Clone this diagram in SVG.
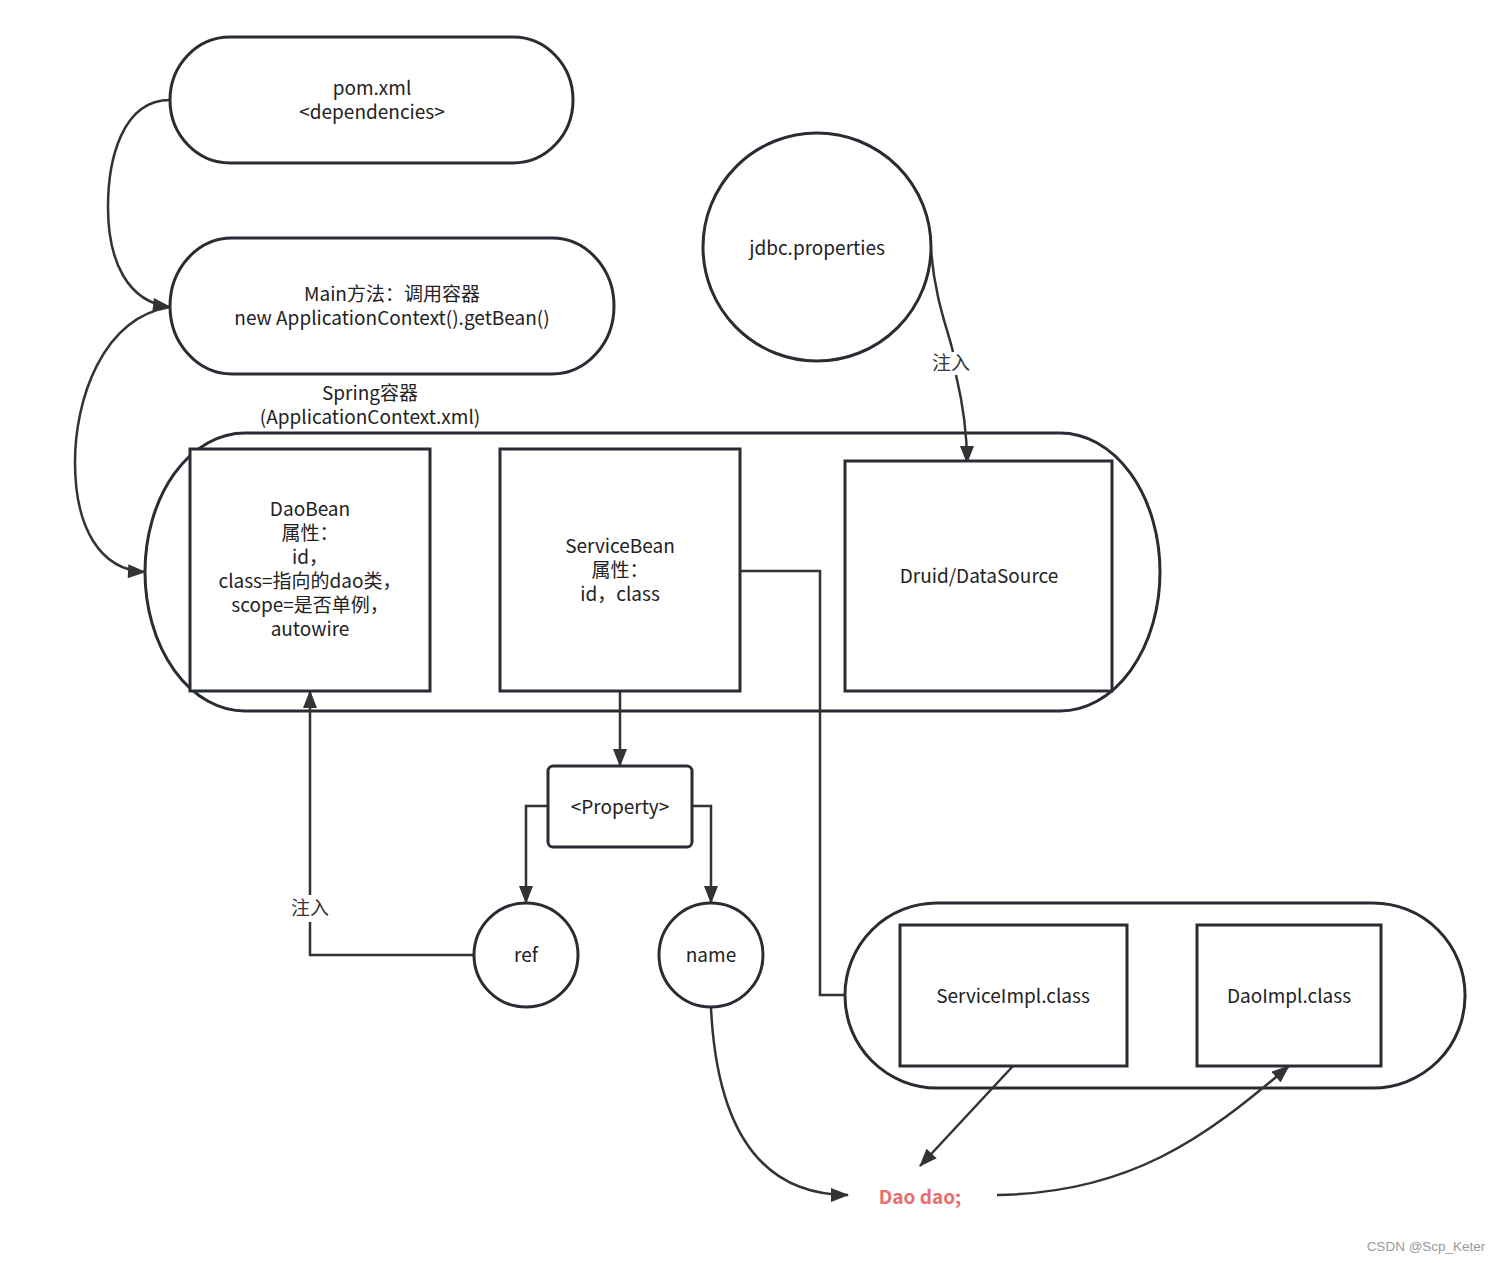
<svg xmlns="http://www.w3.org/2000/svg" width="1502" height="1263" viewBox="0 0 1502 1263">
<style>
.node{fill:#fff;stroke:#282c33;stroke-width:3}
.t{font-family:"Noto Sans CJK SC","Noto Sans",sans-serif;font-size:19px;fill:#222;text-anchor:middle}
.c{fill:none;stroke:#333;stroke-width:2.5}
.lbl{font-family:"Noto Sans CJK SC","Noto Sans",sans-serif;font-size:19px;fill:#333;text-anchor:middle}
</style>
<defs>
<marker id="ah" viewBox="0 0 18 14" refX="17" refY="7" markerWidth="19" markerHeight="14" markerUnits="userSpaceOnUse" orient="auto">
<path d="M0,0 L18,7 L0,14 z" fill="#333"/>
</marker>
</defs>
<rect width="1502" height="1263" fill="#fff"/>

<g id="spring">
<rect class="node" x="145" y="433" width="1015" height="278" rx="100" ry="139"/>
<text class="t" x="370" y="400">Spring容器</text>
<text class="t" x="370" y="424">(ApplicationContext.xml)</text>
</g>
<g id="implgroup">
<rect class="node" x="845" y="903" width="620" height="185" rx="92" ry="92"/>
</g>

<g id="connectors">
<path class="c" d="M170,100 C122,100 108,160 108,207 C108,262 128,302 170,307" marker-end="url(#ah)"/>
<path class="c" d="M170,307 C102,318 75,400 75,462 C75,528 100,570 145,572" marker-end="url(#ah)"/>
<path class="c" d="M931,250 C935,300 948,330 953,352 M956,375 C962,400 967,430 967,463" marker-end="url(#ah)"/>
<path class="c" d="M620,691 L620,766" marker-end="url(#ah)"/>
<path class="c" d="M548,806 L526,806 L526,903" marker-end="url(#ah)"/>
<path class="c" d="M692,806 L711,806 L711,903" marker-end="url(#ah)"/>
<path class="c" d="M473,955 L310,955 L310,922 M310,895 L310,691" marker-end="url(#ah)"/>
<path class="c" d="M740,571 L820,571 L820,995 L845,995"/>
<path class="c" d="M1013,1066 L920,1166" marker-end="url(#ah)"/>
<path class="c" d="M711,1008 C718,1150 775,1195 848,1195" marker-end="url(#ah)"/>
<path class="c" d="M997,1195 C1130,1193 1205,1138 1289,1066" marker-end="url(#ah)"/>
<text class="lbl" x="951" y="370">注入</text>
<text class="lbl" x="310" y="915">注入</text>
</g>

<g id="pom">
<rect class="node" x="170" y="37" width="403" height="126" rx="60" ry="63"/>
<text class="t" x="372" y="95">pom.xml</text>
<text class="t" x="372" y="119">&lt;dependencies&gt;</text>
</g>
<g id="main">
<rect class="node" x="170" y="238" width="444" height="136" rx="62" ry="68"/>
<text class="t" x="392" y="301">Main方法：调用容器</text>
<text class="t" x="392" y="325">new ApplicationContext().getBean()</text>
</g>
<g id="jdbc">
<circle class="node" cx="817" cy="247" r="114"/>
<text class="t" x="817" y="255">jdbc.properties</text>
</g>
<g id="daobean">
<rect class="node" x="190" y="449" width="240" height="242"/>
<text class="t" x="310" y="516">DaoBean</text>
<text class="t" x="310" y="540">属性：</text>
<text class="t" x="310" y="564">id，</text>
<text class="t" x="310" y="588">class=指向的dao类，</text>
<text class="t" x="310" y="612">scope=是否单例，</text>
<text class="t" x="310" y="636">autowire</text>
</g>
<g id="servicebean">
<rect class="node" x="500" y="449" width="240" height="242"/>
<text class="t" x="620" y="553">ServiceBean</text>
<text class="t" x="620" y="577">属性：</text>
<text class="t" x="620" y="601">id，class</text>
</g>
<g id="druid">
<rect class="node" x="845" y="461" width="267" height="230"/>
<text class="t" x="979" y="583">Druid/DataSource</text>
</g>
<g id="property">
<rect class="node" x="548" y="766" width="144" height="81" rx="5"/>
<text class="t" x="620" y="814">&lt;Property&gt;</text>
</g>
<g id="ref">
<circle class="node" cx="526" cy="955" r="52"/>
<text class="t" x="526" y="962">ref</text>
</g>
<g id="name">
<circle class="node" cx="711" cy="955" r="52"/>
<text class="t" x="711" y="962">name</text>
</g>
<g id="serviceimpl">
<rect class="node" x="900" y="925" width="227" height="141"/>
<text class="t" x="1013" y="1003">ServiceImpl.class</text>
</g>
<g id="daoimpl">
<rect class="node" x="1197" y="925" width="184" height="141"/>
<text class="t" x="1289" y="1003">DaoImpl.class</text>
</g>
<g id="daodao">
<text x="920" y="1204" style="font-family:'Noto Sans CJK SC','Noto Sans',sans-serif;font-size:19px;font-weight:bold;fill:#e96d6d;text-anchor:middle">Dao dao;</text>
</g>
<text x="1426" y="1251" style="font-family:'Liberation Sans',sans-serif;font-size:13.5px;fill:#9a9a9a;text-anchor:middle">CSDN @Scp_Keter</text>
</svg>
